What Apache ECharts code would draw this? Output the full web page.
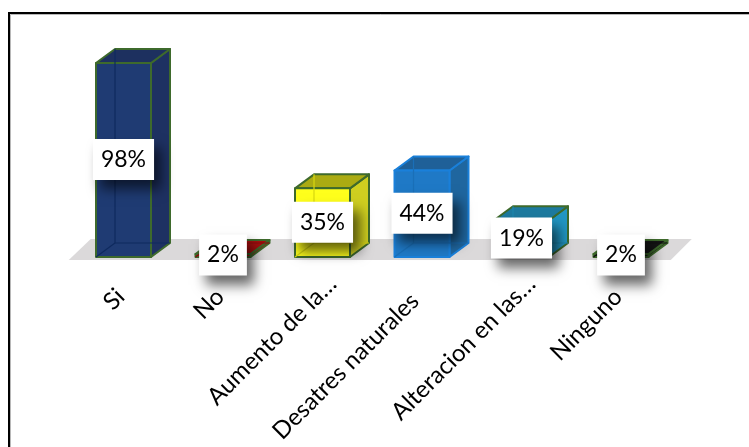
<!DOCTYPE html>
<html><head><meta charset="utf-8">
<style>html,body{margin:0;padding:0;background:#fff}#c{width:749px;height:447px}</style>
<script src="https://cdn.jsdelivr.net/npm/echarts@6/dist/echarts.min.js"></script>
</head><body><div id="c"></div>
<script>
const categories = ["Si","No","Aumento de la…","Desatres naturales","Alteracion en las…","Ninguno"];
const values = [98,2,35,44,19,2];
const labels = ["98%","2%","35%","44%","19%","2%"];
const frontColors = ["#1f3b73","#c00d0d","#ffff1c","#1f79c6","#2399c9","#1c1c1c"];
const topColors = ["#1d305f","#a80f0f","#abab12","#1f6098","#1d7a9f","#151515"];
const sideColors = ["#1e3162","#b01010","#cfcf20","#1f669f","#2196c3","#222222"];
const edgeColors = ["#3e6a2c","#3e6a2c","#3e6a2c","#1a80da","#3e6a2c","#3e6a2c"];
const innerEdge = ["#0f2a5e","#8a0c0c","#d8d810","#1a6fb8","#1d86ad","#111111"];
const labelInset = [4,4,-14,10,-14,4];
const DX = 19, DY = 14, HALF = 27.5;

const chart = echarts.init(document.getElementById('c'), null, {renderer:'canvas'});

function poly(points, fill, stroke, lw){
  return {type:'polygon', shape:{points}, style:{fill, stroke, lineWidth:lw, lineJoin:'round'}};
}
function line(a,b,stroke,lw){
  return {type:'line', shape:{x1:a[0],y1:a[1],x2:b[0],y2:b[1]}, style:{stroke, lineWidth:lw}};
}

chart.setOption({
  animation:false,
  backgroundColor:'#fff',
  graphic:[
    {type:'rect', shape:{x:10.5,y:14.5,width:760,height:460}, style:{fill:'none',stroke:'#b8b8b8',lineWidth:1}, silent:true},
    {type:'rect', shape:{x:9,y:13,width:760,height:460}, style:{fill:'none',stroke:'#000',lineWidth:2}, silent:true}
  ],
  grid:{left:73.75,width:597,top:59,height:199},
  xAxis:{type:'category',
    data:categories.map((c,i)=>({value:c,textStyle:{padding:[0,labelInset[i],0,0]}})),
    axisLine:{show:false},axisTick:{show:false},
    axisLabel:{rotate:45,interval:0,margin:32,fontFamily:'Lato',fontSize:24,color:'#000',overflow:'none',width:400}},
  yAxis:{type:'value',min:0,max:100,show:false,splitLine:{show:false}},
  series:[
    {type:'custom',z:1,silent:true,clip:false,data:[0],
     renderItem(p,api){
       const x0=api.coord([0,0])[0]-49.75, x1=api.coord([5,0])[0]+49.75, y=api.coord([0,0])[1];
       return poly([[x0-5,y+2],[x0+17,y-19],[x1+21,y-19],[x1,y+2]],'#dbd9da','none',0);
     },encode:{x:0,y:0}},
    {type:'custom',z:2,silent:true,clip:false,data:values.map((v,i)=>[i,v]),encode:{x:0,y:1},
     renderItem(p,api){
       const i=api.value(0), b=api.coord([i,0]), t=api.coord([i,api.value(1)]);
       const xl=b[0]-HALF, xr=b[0]+HALF, yb=b[1]-1, yt=t[1];
       const e=edgeColors[i], lw=2;
       return {type:'group',children:[
         poly([[xr,yb],[xr+DX,yb-DY],[xr+DX,yt-DY],[xr,yt]],sideColors[i],e,lw),
         poly([[xl,yt],[xl+DX,yt-DY],[xr+DX,yt-DY],[xr,yt]],topColors[i],e,lw),
         poly([[xl,yt],[xr,yt],[xr,yb],[xl,yb]],frontColors[i],e,lw),
         line([xl+DX,yt-DY],[xl+DX,yb-DY],innerEdge[i],1.2),
         line([xl+DX,yb-DY],[xr+DX,yb-DY],innerEdge[i],1.2),
         line([xl+DX,yb-DY],[xl,yb],innerEdge[i],1.2)
       ]};
     }},
    {type:'custom',z:3,silent:true,clip:false,data:values.map((v,i)=>[i,v]),encode:{x:0,y:1},
     renderItem(p,api){
       const i=api.value(0), c=api.coord([i,api.value(1)/2]);
       return {type:'text',x:c[0],y:c[1]-1,z2:10,style:{
         text:labels[i],fill:'#000',font:'23px Lato',align:'center',verticalAlign:'middle',
         backgroundColor:'#fff',padding:[9,8,9,8],
         shadowColor:'rgba(0,0,0,0.6)',shadowBlur:12,shadowOffsetX:7,shadowOffsetY:9
       }};
     }}
  ]
});
</script></body></html>
